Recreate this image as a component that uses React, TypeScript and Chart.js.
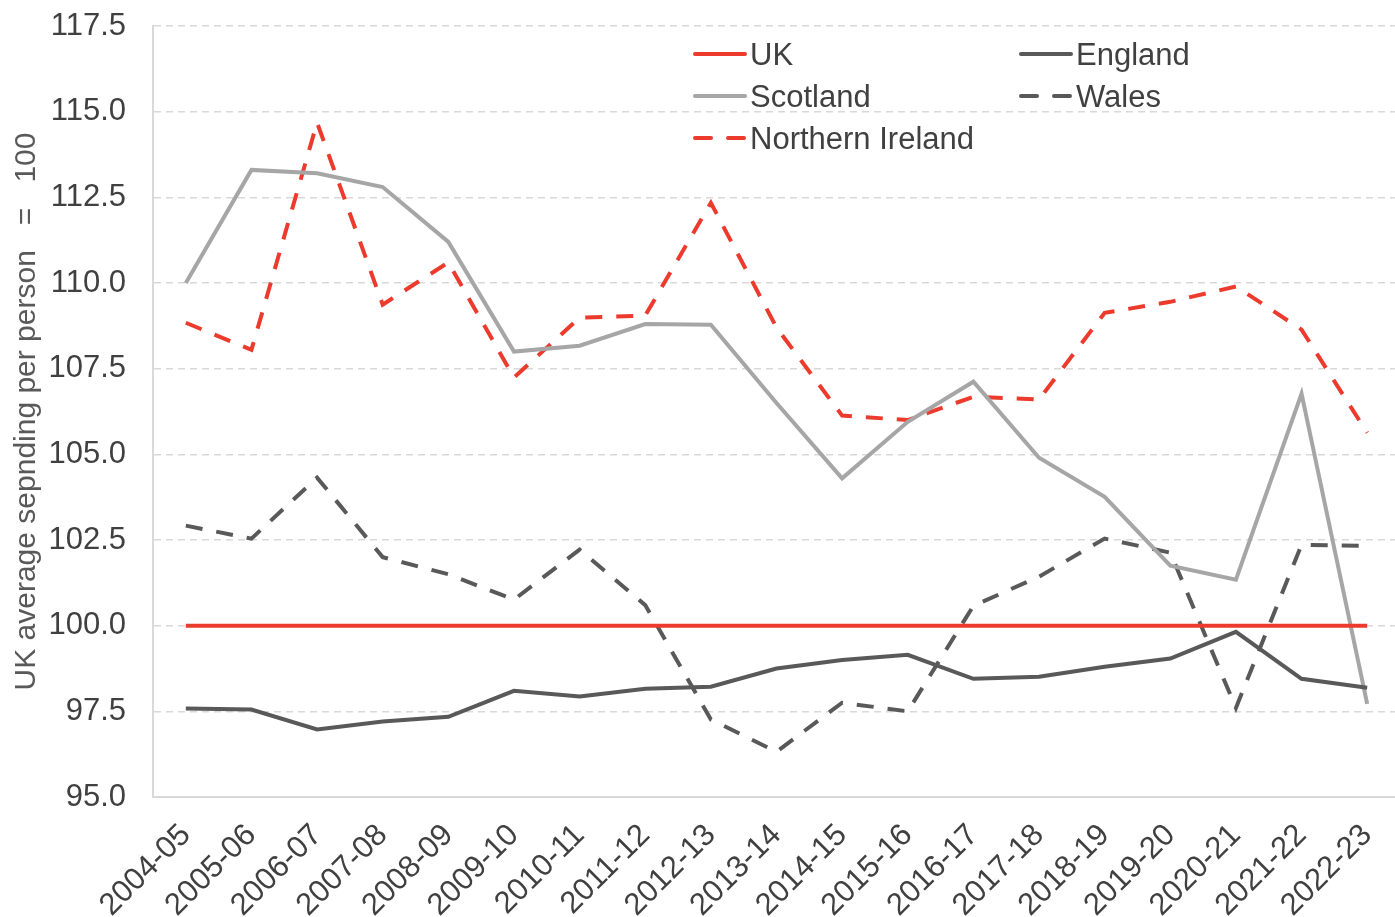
import React, { useEffect, useRef } from "react";
import { Chart, registerables } from "chart.js";

Chart.register(...registerables);

const years = [
  "2004-05", "2005-06", "2006-07", "2007-08", "2008-09", "2009-10", "2010-11",
  "2011-12", "2012-13", "2013-14", "2014-15", "2015-16", "2016-17", "2017-18",
  "2018-19", "2019-20", "2020-21", "2021-22", "2022-23",
];

const uk = [100, 100, 100, 100, 100, 100, 100, 100, 100, 100, 100, 100, 100, 100, 100, 100, 100, 100, 100];
const england = [97.58, 97.55, 96.97, 97.2, 97.34, 98.1, 97.93, 98.16, 98.22, 98.75, 99.0, 99.15, 98.45, 98.51, 98.8, 99.04, 99.82, 98.45, 98.19];
const scotland = [110.0, 113.3, 113.2, 112.8, 111.2, 108.0, 108.17, 108.8, 108.78, 106.5, 104.3, 105.95, 107.12, 104.9, 103.76, 101.75, 101.34, 106.77, 97.72];
const wales = [102.92, 102.54, 104.32, 102.0, 101.5, 100.76, 102.22, 100.6, 97.26, 96.32, 97.75, 97.5, 100.58, 101.43, 102.54, 102.13, 97.6, 102.36, 102.33];
const northernIreland = [108.84, 108.05, 114.68, 109.37, 110.6, 107.24, 108.99, 109.05, 112.34, 108.7, 106.13, 106.0, 106.68, 106.6, 109.13, 109.45, 109.9, 108.64, 105.63];

const seriesNames = ["UK", "England", "Scotland", "Wales", "Northern Ireland"];
const yAxisTitle = "UK average sepnding per person   =   100";
const yMin = 95;
const yMax = 117.5;
const yStep = 2.5;

const RED = "#EC3A2D";
const DARK = "#595959";
const LIGHT = "#A6A6A6";
const TEXT = "#404040";
const FONT = "'Liberation Sans', Arial, sans-serif";

// legend slot: column x offset & row y offset relative to chart area
const legendSlots = [
  { dx: 541, dy: 28 },
  { dx: 867, dy: 28 },
  { dx: 541, dy: 70 },
  { dx: 867, dy: 70 },
  { dx: 541, dy: 112 },
];

const legendPlugin = {
  id: "inlineLegend",
  afterDatasetsDraw(chart: any) {
    const { ctx, chartArea } = chart;
    ctx.save();
    chart.data.datasets.forEach((ds: any, i: number) => {
      const slot = legendSlots[i];
      const x = chartArea.left + slot.dx;
      const y = chartArea.top + slot.dy;
      ctx.beginPath();
      ctx.strokeStyle = ds.borderColor;
      ctx.lineWidth = 4;
      ctx.lineCap = "round";
      ctx.setLineDash(ds.borderDash && ds.borderDash.length ? [16, 17] : []);
      ctx.moveTo(x + 1, y);
      ctx.lineTo(x + 51, y);
      ctx.stroke();
      ctx.setLineDash([]);
      ctx.fillStyle = TEXT;
      ctx.font = `31px ${FONT}`;
      ctx.textAlign = "left";
      ctx.textBaseline = "alphabetic";
      ctx.fillText(ds.label, x + 56, y + 11);
    });
    ctx.restore();
  },
};

export default function App() {
  const ref = useRef<HTMLCanvasElement | null>(null);

  useEffect(() => {
    if (!ref.current) return;
    const dash = [17, 14];
    const chart = new Chart(ref.current, {
      type: "line",
      data: {
        labels: years,
        datasets: [
          { label: seriesNames[0], data: uk, borderColor: RED, borderWidth: 4, borderDash: [] },
          { label: seriesNames[1], data: england, borderColor: DARK, borderWidth: 4, borderDash: [] },
          { label: seriesNames[2], data: scotland, borderColor: LIGHT, borderWidth: 4, borderDash: [] },
          { label: seriesNames[3], data: wales, borderColor: DARK, borderWidth: 4, borderDash: dash },
          { label: seriesNames[4], data: northernIreland, borderColor: RED, borderWidth: 4, borderDash: dash },
        ].map((d) => ({
          ...d,
          pointRadius: 0,
          pointHoverRadius: 0,
          tension: 0,
          fill: false,
          borderCapStyle: "butt" as const,
          borderJoinStyle: "miter" as const,
        })),
      },
      options: {
        animation: false,
        responsive: false,
        maintainAspectRatio: false,
        layout: { padding: { top: 26, left: 0, right: 0, bottom: 0 } },
        plugins: {
          legend: { display: false },
          tooltip: { enabled: false },
        },
        scales: {
          x: {
            type: "category",
            offset: true,
            grid: { display: false, drawTicks: false },
            border: { display: true, color: "#D9D9D9", width: 2 },
            ticks: {
              color: TEXT,
              font: { family: FONT, size: 31 },
              maxRotation: 45,
              minRotation: 45,
              autoSkip: false,
              padding: 20,
            },
            afterFit: (scale: any) => {
              scale.height = 120;
              scale.paddingLeft = 0;
              scale.paddingRight = 0;
              scale.paddingTop = 0;
              scale.paddingBottom = 0;
            },
          },
          y: {
            min: yMin,
            max: yMax,
            grid: { color: "#D9D9D9", lineWidth: 1.5, drawTicks: false },
            border: { display: true, color: "#D9D9D9", width: 2, dash: [7, 5] },
            ticks: {
              stepSize: yStep,
              color: TEXT,
              font: { family: FONT, size: 31 },
              padding: 27,
              callback: (v: any) => Number(v).toFixed(1),
            },
            title: {
              display: true,
              text: yAxisTitle,
              color: DARK,
              font: { family: FONT, size: 30 },
              padding: { top: 9, bottom: 0 },
            },
            afterFit: (scale: any) => {
              scale.width = 153;
              scale.paddingLeft = 0;
              scale.paddingRight = 0;
              scale.paddingTop = 0;
              scale.paddingBottom = 0;
            },
          },
        },
      },
      plugins: [legendPlugin],
    });
    return () => chart.destroy();
  }, []);

  return (
    <div
      style={{
        position: "absolute",
        left: 0,
        top: 0,
        width: 1395,
        height: 917,
        overflow: "hidden",
        background: "#ffffff",
      }}
    >
      <canvas ref={ref} width={1400} height={917} style={{ display: "block", width: 1400, height: 917 }} />
    </div>
  );
}
